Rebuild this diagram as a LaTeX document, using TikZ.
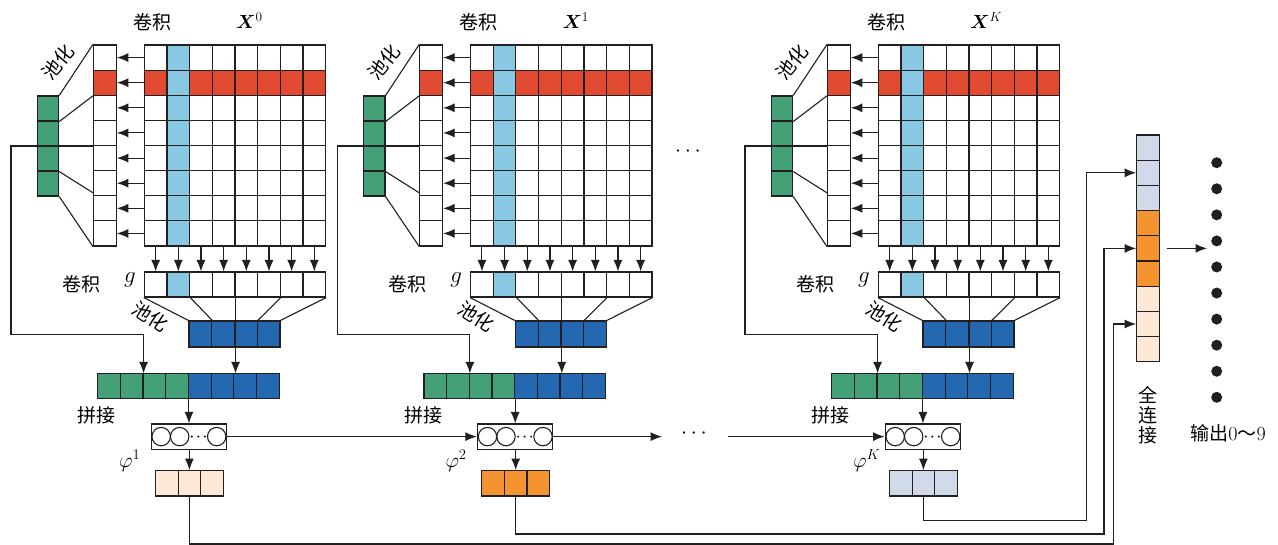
\RequirePackage{fix-cm}
\documentclass[tikz,border=0pt]{standalone}
\usepackage{fontspec}
\usepackage{bm}
\newfontfamily\cjk{Noto Sans CJK SC}
\usetikzlibrary{arrows.meta,calc}
\definecolor{ink}{RGB}{35,31,32}
\definecolor{cred}{RGB}{224,75,50}
\definecolor{lblue}{RGB}{137,200,227}
\definecolor{cgreen}{RGB}{67,160,119}
\definecolor{cblue}{RGB}{37,104,178}
\definecolor{peach}{RGB}{252,232,213}
\definecolor{corange}{RGB}{243,148,48}
\definecolor{lav}{RGB}{210,218,234}
\tikzset{
 cellbox/.style={draw=ink, line width=1.1pt, inner sep=0pt, minimum width=22.67pt, minimum height=25.125pt},
 conn/.style={draw=ink, line width=1.1pt},
 arr/.style={conn, -{Latex[length=11.5pt,width=9pt]}},
 zh/.style={font=\cjk\fontsize{19}{21}\selectfont, inner sep=0pt},
 mathlbl/.style={font=\fontsize{19}{21}\selectfont, inner sep=0pt},
 dotnode/.style={circle, fill=ink, minimum size=11pt, inner sep=0pt},
}
% #1 xshift, #2 prefix, #3 X sup, #4 phi sup, #5 output colour
\newcommand\cnnblock[5]{%
\begin{scope}[xshift=#1pt]
\foreach \r in {1,...,8}{
  \foreach \c in {1,...,8}{
    \def\fc{white}\ifnum\r=2 \def\fc{cred}\fi\ifnum\c=2 \def\fc{lblue}\fi
    \node[cellbox, fill=\fc] (#2G\r-\c) at ({144.3+(\c-0.5)*22.67},{45+(\r-0.5)*25.125}) {};
  }
  \def\fc{white}\ifnum\r=2 \def\fc{cred}\fi
  \node[cellbox, minimum width=22.8pt, fill=\fc] (#2L\r) at (104.9,{45+(\r-0.5)*25.125}) {};
  \draw[arr] (#2G\r-1.west) -- (#2L\r.east);
}
\foreach \i in {1,...,4}{
  \node[cellbox, minimum width=21.4pt, minimum height=25pt, fill=cgreen] (#2P\i) at (48,{96+(\i-0.5)*25}) {};
}
\draw[conn] (#2P1.north east) -- (#2L1.north west);
\draw[conn] (#2P1.south east) -- (#2L2.south west);
\draw[conn] (#2P3.south east) -- ($(#2L6.south west)+(0,-3.5)$);
\draw[conn] (#2P4.south east) -- (#2L8.south west);
\foreach \c in {1,...,8}{
  \def\fc{white}\ifnum\c=2 \def\fc{lblue}\fi
  \node[cellbox, minimum height=25pt, fill=\fc] (#2g\c) at ({144.3+(\c-0.5)*22.67},284.5) {};
  \draw[arr] (#2G8-\c.south) -- (#2g\c.north);
}
\foreach \i in {1,...,4}{
  \node[cellbox, minimum width=22.75pt, minimum height=26pt, fill=cblue] (#2B\i) at ({189+(\i-0.5)*22.75},334) {};
}
\draw[conn] (#2g1.south west) -- (#2B1.north west);
\draw[conn] (#2g2.south east) -- (#2B1.north east);
\draw[conn] (#2g6.south east) -- (#2B3.north east);
\draw[conn] (#2g8.south east) -- (#2B4.north east);
\foreach \i in {1,...,8}{
  \def\fc{cblue}\ifnum\i<5 \def\fc{cgreen}\fi
  \node[cellbox, minimum height=24.5pt, fill=\fc] (#2C\i) at ({97.7+(\i-0.5)*22.67},386.2) {};
}
\draw[arr] (#2g4.south east) -- (#2g4.south east |- #2C6.north);
\coordinate (#2t) at (11,334.3);
\draw[arr] (#2L4.south west) -| (#2t) -| (#2C2.north east);
\node[draw=ink, line width=1.1pt, minimum width=75.5pt, minimum height=25.2pt, inner sep=0pt] (#2N) at (188.8,436.6) {};
\foreach \dx in {-27.6,-9.1,27.9} \draw[conn] ($(#2N)+(\dx,0)$) circle (9.2pt);
\foreach \dx in {3,9.5,16} \fill[ink] ($(#2N)+(\dx,0)$) circle (1.2pt);
\draw[arr] (#2C4.south east) -- (#2C4.south east |- #2N.north);
\foreach \i in {1,...,3}{
  \node[cellbox, minimum width=22.6pt, minimum height=25.3pt, fill=#5] (#2O\i) at ({155.5+(\i-0.5)*22.6},483.3) {};
}
\draw[arr] (#2O2.north |- #2N.south) -- (#2O2.north);
\node[zh] (#2lca) at (152.5,22.5) {卷积};
\node[mathlbl, anchor=base west] (#2lx) at (236,28.3) {$\bm{X}^{#3}$};
\node[zh] (#2lcb) at (81,284) {卷积};
\node[font=\fontsize{23}{25}\selectfont, inner sep=0pt, anchor=base] (#2lg) at (130,282.5) {$g$};
\node[zh, rotate=50] (#2lpa) at (58,62) {池化};
\node[zh, rotate=-33] (#2lpb) at (150,316.5) {池化};
\node[zh] (#2lj) at (96.7,415) {拼接};
\node[font=\fontsize{21}{23}\selectfont, inner sep=0pt, anchor=base west] (#2lphi) at (119,467) {$\varphi^{#4}$};
\end{scope}}

\begin{document}
\begin{tikzpicture}[x=1pt,y=-1pt]
\fill[white] (0,0) rectangle (1278,545);
\useasboundingbox (0,0) rectangle (1278,545);
\cnnblock{0}{b1}{0}{1}{peach}
\cnnblock{326.3}{b2}{1}{2}{corange}
\cnnblock{734}{bK}{K}{K}{lav}
% dots between blocks
\node[font=\fontsize{22}{24}\selectfont, inner sep=0pt] (topdots) at (688,152) {$\cdots$};
\draw[arr] (b1N.east) -- (b2N.west);
\coordinate (d1) at (662,436.6);
\coordinate (d2) at (728,436.6);
\node[font=\fontsize{22}{24}\selectfont, inner sep=0pt] (middots) at (694,433.5) {$\cdots$};
\draw[arr] (b2N.east) -- (d1);
\draw[arr] (d2) -- (bKN.west);
% fully connected column
\foreach \i/\col in {1/lav,2/lav,3/lav,4/corange,5/corange,6/corange,7/peach,8/peach,9/peach}
  \node[cellbox, minimum width=22.6pt, minimum height=25.2pt, fill=\col] (FC\i) at (1148,{135+(\i-0.5)*25.2}) {};
\coordinate (r1) at (1113.3,544);
\coordinate (r2) at (1104,534);
\coordinate (rK) at (1086.7,520.7);
\draw[arr] (b1O2.south) |- (r1) |- (FC8.west);
\draw[arr] (b2O2.south) |- (r2) |- (FC5.west);
\draw[arr] (bKO2.south) |- (rK) |- (FC2.west);
\foreach \i in {1,...,10}
  \node[dotnode] (o\i) at (1216.7,{162.7+(\i-1)*26.07}) {};
\draw[arr, shorten <=7pt, shorten >=4pt] (FC5.east) -- (FC5.east -| o4.west);
\node[zh, align=center, font=\cjk\fontsize{19}{20}\selectfont] (fcl) at (1148,415) {全\\连\\接};
\node[zh] (outl) at (1228,433) {输出{\rmfamily\fontsize{20}{22}\selectfont 0}～{\rmfamily\fontsize{20}{22}\selectfont 9}};
\end{tikzpicture}
\end{document}
